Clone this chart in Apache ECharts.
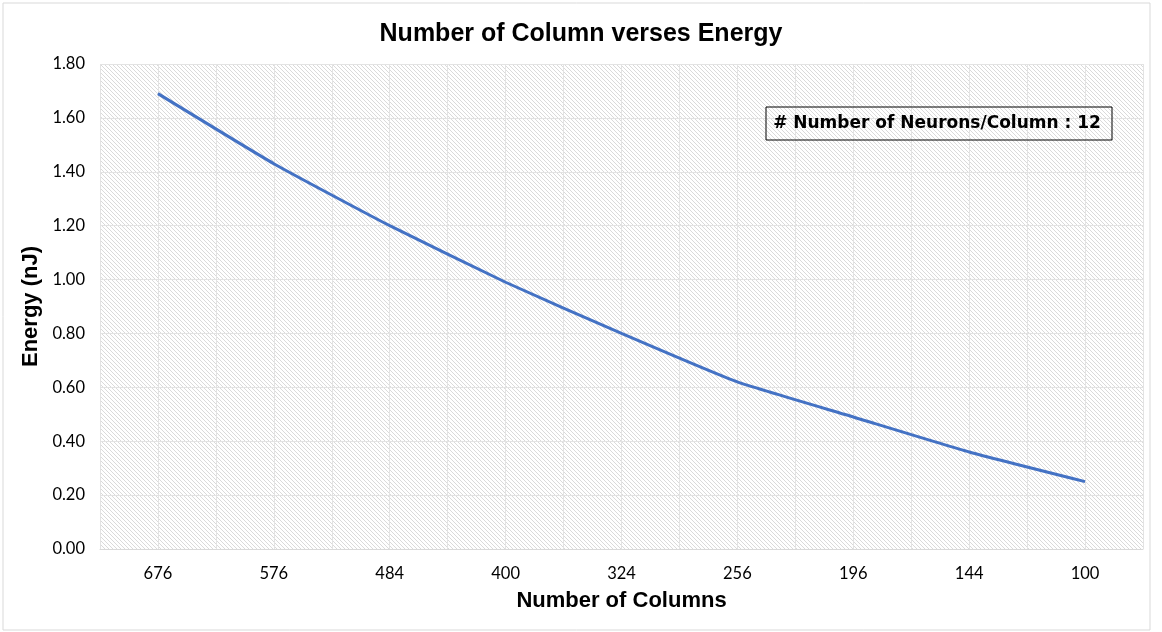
<!DOCTYPE html>
<html>
<head>
<meta charset="utf-8">
<script src="https://cdn.jsdelivr.net/npm/echarts@6/dist/echarts.min.js"></script>
<style>
  html, body { margin: 0; padding: 0; background: #fff; }
  #chart { width: 1162px; height: 632px; }
</style>
</head>
<body>
<div id="chart"></div>
<script>
// 数据
let columns = ['676', '576', '484', '400', '324', '256', '196', '144', '100']
let energy = [1.69, 1.43, 1.20, 0.99, 0.80, 0.62, 0.49, 0.36, 0.25]
let neuronsNote = '# Number of Neurons/Column : 12'

// 斜线底纹
function hatch() {
  let c = document.createElement('canvas')
  c.width = 4
  c.height = 4
  let ctx = c.getContext('2d')
  ctx.strokeStyle = '#dadada'
  ctx.lineWidth = 1
  ctx.beginPath()
  ctx.moveTo(-1, -1)
  ctx.lineTo(5, 5)
  ctx.moveTo(-1, 3)
  ctx.lineTo(1, 5)
  ctx.moveTo(3, -1)
  ctx.lineTo(5, 1)
  ctx.stroke()
  return c
}

let chart = echarts.init(document.getElementById('chart'))
chart.setOption({
  animation: false,
  backgroundColor: '#fff',
  title: {
    text: 'Number of Column verses Energy',
    left: 'center',
    top: 17,
    textStyle: {
      fontFamily: 'Liberation Sans, Arial',
      fontWeight: 'bold',
      fontSize: 25,
      color: '#000'
    }
  },
  grid: {
    left: 100,
    right: 19,
    top: 64,
    bottom: 83,
    show: true,
    borderWidth: 0,
    backgroundColor: { image: hatch(), repeat: 'repeat' }
  },
  xAxis: [{
    type: 'category',
    data: columns,
    boundaryGap: true,
    name: 'Number of Columns',
    nameLocation: 'middle',
    nameGap: 41,
    nameTextStyle: {
      fontFamily: 'Liberation Sans, Arial',
      fontWeight: 'bold',
      fontSize: 22,
      color: '#000'
    },
    axisLine: { lineStyle: { color: '#d9d9d9', width: 1 } },
    axisTick: { show: false },
    splitLine: { show: false },
    axisLabel: {
      fontFamily: 'Lato',
      fontSize: 16.5,
      color: '#000',
      margin: 16
    }
  }, {
    // 半格竖线
    type: 'value',
    position: 'top',
    min: 0,
    max: 18,
    interval: 1,
    axisLine: { show: false },
    axisTick: { show: false },
    axisLabel: { show: false },
    splitLine: { show: true, lineStyle: { color: '#e3e3e3', width: 1 } }
  }],
  yAxis: {
    type: 'value',
    min: 0,
    max: 1.8,
    interval: 0.2,
    name: 'Energy (nJ)',
    nameLocation: 'middle',
    nameGap: 52,
    nameTextStyle: {
      fontFamily: 'Liberation Sans, Arial',
      fontWeight: 'bold',
      fontSize: 22,
      color: '#000'
    },
    axisLine: { show: false },
    axisTick: { show: false },
    splitLine: { lineStyle: { color: '#e3e3e3', width: 1 } },
    axisLabel: {
      fontFamily: 'Lato',
      fontSize: 16.5,
      color: '#000',
      margin: 15,
      formatter: function (v) {
        return v.toFixed(2)
      }
    }
  },
  series: [{
    name: 'Energy',
    type: 'line',
    data: energy,
    smooth: 0.15,
    symbol: 'none',
    lineStyle: { color: '#4472C4', width: 3 }
  }],
  graphic: [{
    type: 'rect',
    shape: { x: 3, y: 3, width: 1147, height: 627 },
    style: { fill: 'none', stroke: '#d9d9d9', lineWidth: 1 },
    silent: true
  }, {
    type: 'rect',
    shape: { x: 766, y: 107, width: 346, height: 33 },
    style: { fill: 'none', stroke: '#000', lineWidth: 1 },
    z: 10
  }, {
    type: 'text',
    x: 937,
    y: 124,
    style: {
      text: neuronsNote,
      fill: '#000',
      font: 'bold 17px "DejaVu Sans"',
      align: 'center',
      verticalAlign: 'middle'
    },
    z: 10
  }]
})
</script>
</body>
</html>
